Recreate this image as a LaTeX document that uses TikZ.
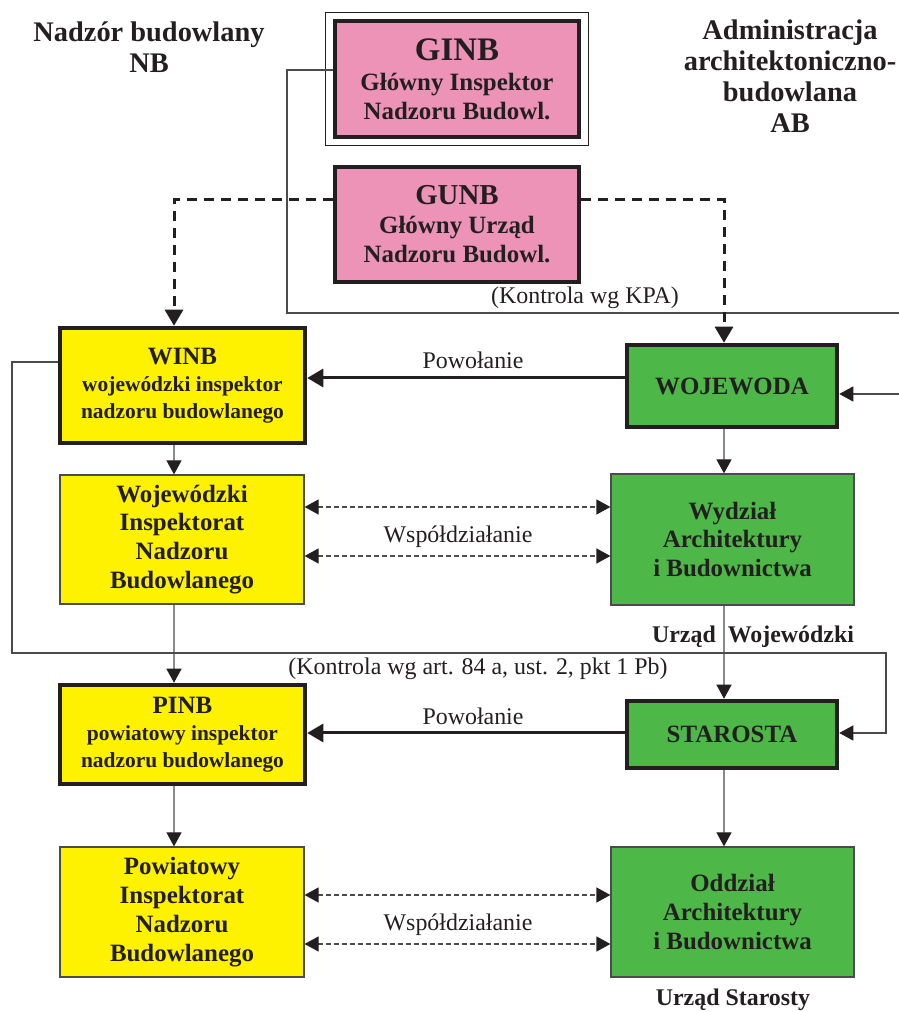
\documentclass[tikz,border=0pt]{standalone}
\usepackage{fontspec}
\setmainfont{Liberation Serif}
\usepackage{tikz}
\usetikzlibrary{arrows.meta,positioning}
\definecolor{pinkbox}{RGB}{237,147,183}
\definecolor{yellowbox}{RGB}{255,242,0}
\definecolor{greenbox}{RGB}{77,184,72}
\definecolor{textcol}{RGB}{35,31,32}
\definecolor{linecol}{RGB}{75,75,77}

\begin{document}
\begin{tikzpicture}[line join=miter,
  boxtext/.style={text=textcol,align=center,font=\bfseries\fontsize{25}{29}\selectfont,inner sep=0pt},
  heavybox/.style={boxtext,draw=textcol,line width=4.5bp},
  lightbox/.style={boxtext,draw=linecol,line width=1.2bp},
  label/.style={text=textcol,font=\fontsize{24}{28}\selectfont,inner sep=0pt},
  title/.style={text=textcol,align=center,font=\bfseries\fontsize{28.5}{31}\selectfont,inner sep=0pt},
  thinline/.style={draw=linecol,line width=1.2bp},
  thinarrow/.style={thinline,-{Triangle[length=14bp,width=15bp,color=textcol]}},
  heavyarrow/.style={draw=textcol,line width=3bp,-{Triangle[length=16bp,width=18bp]}},
  dashline/.style={heavyarrow,dash pattern=on 10bp off 7bp},
  coop/.style={thinline,dash pattern=on 5bp off 3bp,
    {Triangle[length=14bp,width=15bp,color=textcol]}-{Triangle[length=14bp,width=15bp,color=textcol]}},
]
\useasboundingbox (0bp,0bp) rectangle (899bp,1012bp);
\clip (0bp,0bp) rectangle (899bp,1012bp);
%%
\node (NB) at (149bp,965bp) [title] {Nadzór budowlany\\NB};
\node (AB) at (790bp,936bp) [title] {Administracja\\architektoniczno-\\budowlana\\AB};
%
\node (GINB) at (457bp,933bp) [heavybox,fill=pinkbox,minimum width=244bp,minimum height=116bp]
  {{\fontsize{33}{38}\selectfont GINB}\\[1bp]Główny Inspektor\\Nadzoru Budowl.};
\draw [thinline,draw=textcol] ([shift={(-7bp,-6bp)}]GINB.south west) rectangle ([shift={(7bp,6bp)}]GINB.north east);
\node (GUNB) at (457bp,787.5bp) [heavybox,fill=pinkbox,minimum width=244bp,minimum height=115bp]
  {{\fontsize{29}{33}\selectfont GUNB}\\Główny Urząd\\Nadzoru Budowl.};
%
\node (WINB) at (182.5bp,626.5bp) [heavybox,fill=yellowbox,minimum width=245bp,minimum height=115bp]
  {WINB\\[-2bp]{\fontsize{21.5}{25}\selectfont wojewódzki inspektor}\\[-2bp]{\fontsize{21.5}{25}\selectfont nadzoru budowlanego}};
\node (WOJ) at (732bp,626bp) [heavybox,fill=greenbox,minimum width=210bp,minimum height=82bp] {WOJEWODA};
\node (WIN) at (182bp,472.5bp) [lightbox,fill=yellowbox,minimum width=244bp,minimum height=129bp]
  {Wojewódzki\\Inspektorat\\Nadzoru\\Budowlanego};
\node (WAB) at (732.5bp,472.5bp) [lightbox,fill=greenbox,minimum width=243bp,minimum height=131bp]
  {Wydział\\Architektury\\i Budownictwa};
%
\node (PINB) at (182.5bp,277.5bp) [heavybox,fill=yellowbox,minimum width=245bp,minimum height=99bp]
  {PINB\\[-2bp]{\fontsize{21.5}{25}\selectfont powiatowy inspektor}\\[-2bp]{\fontsize{21.5}{25}\selectfont nadzoru budowlanego}};
\node (STA) at (732bp,277.5bp) [heavybox,fill=greenbox,minimum width=210bp,minimum height=67bp] {STAROSTA};
\node (PI) at (182bp,100bp) [lightbox,fill=yellowbox,minimum width=244bp,minimum height=130bp]
  {Powiatowy\\Inspektorat\\Nadzoru\\Budowlanego};
\node (OAB) at (732.5bp,100bp) [lightbox,fill=greenbox,minimum width=243bp,minimum height=130bp]
  {Oddział\\Architektury\\i Budownictwa};
%
\node (kpa) at (585bp,714bp) [label] {(Kontrola wg KPA)};
\node (pow1) at (473bp,652bp) [label] {Powołanie};
\node (wsp1) at (458bp,475bp) [label] {Współdziałanie};
\node (uw) at (753bp,375bp) [boxtext,font=\bfseries\fontsize{24}{28}\selectfont] {Urząd\ \ Wojewódzki};
\node (art) at (478bp,343bp) [label] {(Kontrola wg art. 84 a, ust. 2, pkt 1 Pb)};
\node (pow2) at (473bp,296bp) [label] {Powołanie};
\node (wsp2) at (458bp,87bp) [label] {Współdziałanie};
\node (us) at (733bp,12bp) [boxtext,font=\bfseries\fontsize{24}{28}\selectfont] {Urząd Starosty};
%
\coordinate (kpaL) at (287bp,699bp);
\coordinate (kpaR) at (905bp,699bp);
\coordinate (artL) at (12bp,359bp);
\coordinate (artR) at (886bp,359bp);
%
\draw [thinarrow] ([yshift=9bp]GINB.west) -| (kpaL) -- (kpaR) |- ([yshift=-8bp]WOJ.east);
\draw [thinarrow] ([yshift=23.5bp]WINB.west) -| (artL) -- (artR) |- ([yshift=1.5bp]STA.east);
\draw [dashline] ([yshift=24.5bp]GUNB.west) -| ([xshift=-8.5bp]WINB.north);
\draw [dashline] ([yshift=24.5bp]GUNB.east) -| ([xshift=-8bp]WOJ.north);
\draw [heavyarrow] ([yshift=8bp]WOJ.west) -- ([yshift=8bp]WOJ.west -| WINB.east);
\draw [heavyarrow] ([yshift=1.5bp]STA.west) -- ([yshift=1.5bp]STA.west -| PINB.east);
%
\draw [thinarrow] ([xshift=-8.5bp]WINB.south) -- ([xshift=-8bp]WIN.north);
\draw [thinarrow] ([xshift=-8bp]WIN.south) -- ([xshift=-8.5bp]PINB.north);
\draw [thinarrow] ([xshift=-8.5bp]PINB.south) -- ([xshift=-8bp]PI.north);
\draw [thinarrow] ([xshift=-8bp]WOJ.south) -- ([xshift=-8.5bp]WAB.north);
\draw [thinarrow] ([xshift=-8.5bp]WAB.south) -- ([xshift=-8bp]STA.north);
\draw [thinarrow] ([xshift=-8bp]STA.south) -- ([xshift=-8.5bp]OAB.north);
%
\draw [coop] ([yshift=32.5bp]WIN.east) -- ([yshift=32.5bp]WIN.east -| WAB.west);
\draw [coop] ([yshift=-16.5bp]WIN.east) -- ([yshift=-16.5bp]WIN.east -| WAB.west);
\draw [coop] ([yshift=17bp]PI.east) -- ([yshift=17bp]PI.east -| OAB.west);
\draw [coop] ([yshift=-32bp]PI.east) -- ([yshift=-32bp]PI.east -| OAB.west);
%
\end{tikzpicture}
\end{document}
